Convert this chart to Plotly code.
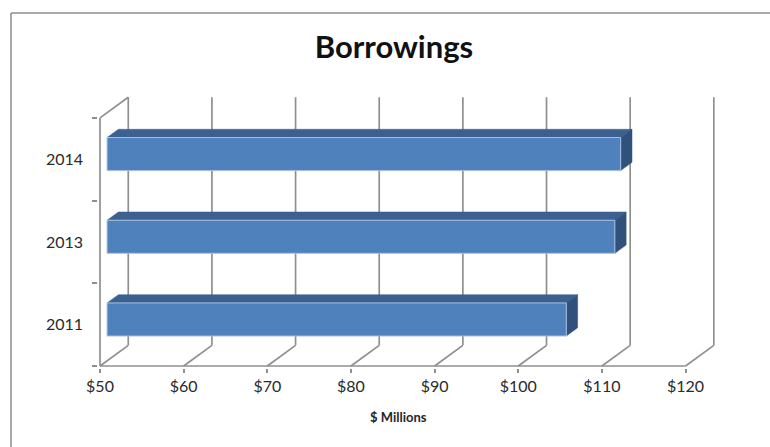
import plotly.graph_objects as go

# Borrowings by year, $ millions
years = ["2011", "2013", "2014"]
borrowings = [104.9, 110.7, 111.4]
x_ticks = [50, 60, 70, 80, 90, 100, 110, 120]
x_tick_labels = ["$50", "$60", "$70", "$80", "$90", "$100", "$110", "$120"]

# Pseudo-3D geometry (oblique projection in data units)
PX_PER_USD = 8.365
PX_PER_CAT = 82.7
DEPTH_X = 3.38      # horizontal shift of the back wall, in $
DEPTH_Y = 0.25      # vertical shift of the back wall, in category units
BAR_D0, BAR_D1 = 0.25, 0.65   # bar depth span as a fraction of the full depth
BAR_HALF = 0.2
BASE = 50

W, H = 770, 447
ML, MR, MT, MB = 98, 54, 94, 79
front_x_px, front_y_px = 100, 366
plot_w = W - ML - MR
plot_h = H - MT - MB
x0 = BASE - (front_x_px - ML) / PX_PER_USD
x1 = x0 + plot_w / PX_PER_USD
y0 = -((H - MB) - front_y_px) / PX_PER_CAT
y1 = y0 + plot_h / PX_PER_CAT

GRID = "#8f8f8f"
FRONT = "#4f81bd"
TOP = "#3c6190"
SIDE = "#30517c"

fig = go.Figure()

def line(xs, ys, color=GRID, width=1.7):
    fig.add_trace(go.Scatter(x=xs, y=ys, mode="lines", hoverinfo="skip",
                             line=dict(color=color, width=width), showlegend=False))

n = len(years)
# back wall verticals and floor diagonals
for t in x_ticks:
    line([t + DEPTH_X, t + DEPTH_X], [DEPTH_Y, n + DEPTH_Y])
    line([t, t + DEPTH_X], [0, DEPTH_Y])
# left side wall top edge and front axes
line([BASE, BASE + DEPTH_X], [n, n + DEPTH_Y])
line([BASE, BASE], [0, n])
line([BASE, x_ticks[-1]], [0, 0])

def face(xs, ys, color):
    fig.add_trace(go.Scatter(x=xs + [xs[0]], y=ys + [ys[0]], mode="lines", fill="toself",
                             fillcolor=color, line=dict(color=color, width=0.5),
                             hoverinfo="skip", showlegend=False))

for i, v in enumerate(borrowings):
    c = i + 0.5
    lo, hi = c - BAR_HALF, c + BAR_HALF
    ax0, ay0 = BAR_D0 * DEPTH_X, BAR_D0 * DEPTH_Y
    ax1, ay1 = BAR_D1 * DEPTH_X, BAR_D1 * DEPTH_Y
    # top face
    face([BASE + ax0, v + ax0, v + ax1, BASE + ax1],
         [hi + ay0, hi + ay0, hi + ay1, hi + ay1], TOP)
    # right side face
    face([v + ax0, v + ax1, v + ax1, v + ax0],
         [lo + ay0, lo + ay1, hi + ay1, hi + ay0], SIDE)
    # front face
    fig.add_trace(go.Scatter(
        x=[BASE + ax0, v + ax0, v + ax0, BASE + ax0, BASE + ax0],
        y=[lo + ay0, lo + ay0, hi + ay0, hi + ay0, lo + ay0],
        mode="lines", fill="toself", fillcolor=FRONT,
        line=dict(color="#a9c1e0", width=1), hoverinfo="skip", showlegend=False))

def px_to_paper_x(px):
    return (px - ML) / plot_w

def px_to_paper_y(py):
    return ((H - MB) - py) / plot_h

FONT = "Lato, 'Open Sans', sans-serif"
BORDER = dict(color="#8c8c8c", width=1.5)

fig.update_layout(
    width=W, height=H,
    margin=dict(l=ML, r=MR, t=MT, b=MB),
    paper_bgcolor="white", plot_bgcolor="white",
    font=dict(family=FONT, size=16, color="#2a2a2a"),
    title=dict(text="<b>Borrowings</b>", x=px_to_paper_x(394), xref="paper",
               y=1 - 47 / H, yref="container", xanchor="center", yanchor="middle",
               font=dict(family=FONT, size=31, color="#111111")),
    xaxis=dict(range=[x0, x1], tickvals=x_ticks, ticktext=x_tick_labels,
               showgrid=False, zeroline=False, showline=False,
               ticks="outside", ticklen=4, tickcolor=GRID, tickwidth=1.5,
               fixedrange=True),
    yaxis=dict(range=[y0, y1], tickvals=[i + 0.5 for i in range(n)], ticktext=years,
               showgrid=False, zeroline=False, showline=False,
               ticks="", ticklabelstandoff=14,
               minor=dict(tickvals=list(range(n + 1)), ticks="outside", ticklen=5,
                          tickcolor=GRID, tickwidth=1.5, showgrid=False),
               fixedrange=True),
    annotations=[dict(text="<b>$ Millions</b>", x=px_to_paper_x(398), y=px_to_paper_y(417),
                      xref="paper", yref="paper", showarrow=False,
                      xanchor="center", yanchor="middle",
                      font=dict(family=FONT, size=13, color="#262626"))],
    # chart-area frame: top and left edges fall inside the page
    shapes=[
        dict(type="line", xref="paper", yref="paper",
             x0=px_to_paper_x(11), x1=px_to_paper_x(W + 5),
             y0=px_to_paper_y(13), y1=px_to_paper_y(13), line=BORDER, layer="below"),
        dict(type="line", xref="paper", yref="paper",
             x0=px_to_paper_x(11), x1=px_to_paper_x(11),
             y0=px_to_paper_y(13), y1=px_to_paper_y(H + 5), line=BORDER, layer="below"),
    ],
)

fig.write_html("out.html")
